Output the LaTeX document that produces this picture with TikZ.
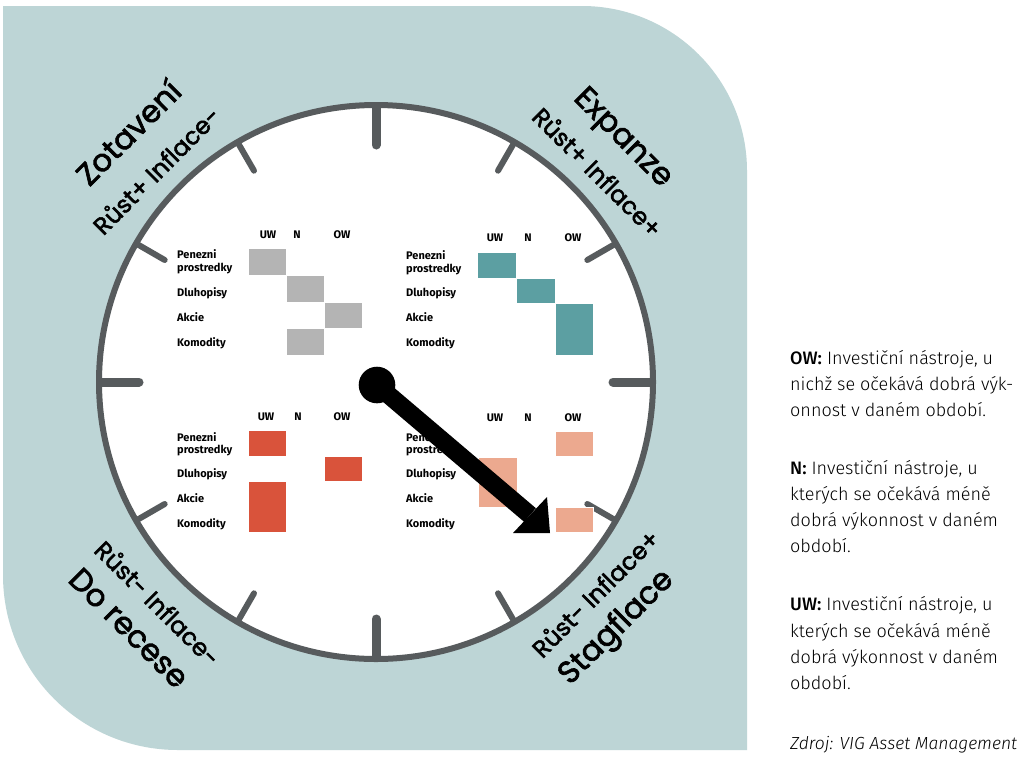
\documentclass[tikz,border=0pt]{standalone}
\usepackage{fontspec}
\usetikzlibrary{calc}
\newfontfamily\titlefont{Poppins}[FakeBold=2.2]
\newfontfamily\gridfont{Fira Sans}
\newfontfamily\legfont{Fira Sans Light}[BoldFont=Fira Sans Medium, ItalicFont=Fira Sans Light Italic]
\definecolor{bgteal}{HTML}{BDD5D6}
\definecolor{ringgray}{HTML}{575B5D}
\definecolor{cgray}{HTML}{B4B4B4}
\definecolor{cteal}{HTML}{5C9FA2}
\definecolor{cred}{HTML}{D9533B}
\definecolor{csalmon}{HTML}{ECA98F}
\tikzset{
  lbl/.style={font=\gridfont\bfseries\fontsize{11}{13}\selectfont, anchor=base west, inner sep=0pt},
  hdr/.style={font=\gridfont\bfseries\fontsize{11}{13}\selectfont, anchor=base, inner sep=0pt},
  ttl/.style={font=\titlefont\fontsize{31}{36}\selectfont, inner sep=0pt},
  subttl/.style={font=\titlefont\fontsize{24}{28}\selectfont, inner sep=0pt},
  leg/.style={font=\legfont\fontsize{18}{22}\selectfont, anchor=base west, inner sep=0pt},
  cellbox/.style={draw=white, line width=0.6pt},
  majortick/.style={draw=ringgray, line width=9pt, line cap=round},
  minortick/.style={draw=ringgray, line width=6pt, line cap=round},
}
\begin{document}
\begin{tikzpicture}[x=1pt,y=-1pt]
\useasboundingbox (0,0) rectangle (1024,758);
\fill[white] (0,0) rectangle (1024,758);
% background panel
\fill[bgteal] (3,6) -- (582,6) .. controls (673,6) and (747,80) .. (747,171)
  -- (747,750) -- (178,750) .. controls (81,750) and (3,672) .. (3,575) -- cycle;
% dial
\coordinate (C) at (376,382);
\fill[white] (C) circle (277);
\foreach \a in {0,90,180,270}
  \draw[majortick] ($(C)+(\a:274)$) -- ($(C)+(\a:237)$);
\foreach \a in {30,60,120,150,210,240,300,330}
  \draw[minortick] ($(C)+(\a:275)$) -- ($(C)+(\a:244)$);
\draw[ringgray, line width=6pt] (C) circle (277);

% quadrant titles
\node[ttl, rotate=45] (zot) at (128,132) {Zotavení};
\node[subttl, rotate=45] (zotsub) at (156,170) {Růst+ Inflace-};
\node[ttl, rotate=-45] (exp) at (622,139) {Expanze};
\node[subttl, rotate=-45] (expsub) at (598,172) {Růst+ Inflace+};
\node[subttl, rotate=-45] (recsub) at (158,603) {Růst- Inflace-};
\node[ttl, rotate=-45] (rec) at (129,628) {Do recese};
\node[subttl, rotate=45] (stagsub) at (595,593) {Růst- Inflace+};
\node[ttl, rotate=45] (stag) at (617,628) {Stagflace};

% top-left grid
\fill[cgray, cellbox] (248,248) rectangle (286,275);
\fill[cgray, cellbox] (286,275) rectangle (324,302);
\fill[cgray, cellbox] (324,302) rectangle (362,328.5);
\fill[cgray, cellbox] (286,328.5) rectangle (324,355);
\node[hdr] (tluw) at (268,238) {UW};
\node[hdr] (tln) at (297,238) {N};
\node[hdr] (tlow) at (342,238) {OW};
\node[lbl] (tlp1) at (177,258) {Penezni};
\node[lbl] (tlp2) at (177,271) {prostredky};
\node[lbl] (tld) at (177,296) {Dluhopisy};
\node[lbl] (tla) at (177,321) {Akcie};
\node[lbl] (tlk) at (177,346) {Komodity};

% top-right grid
\fill[cteal, cellbox] (477,252) rectangle (516,278);
\fill[cteal, cellbox] (516,278) rectangle (555,303.5);
\fill[cteal, cellbox] (555,303.5) rectangle (593,355);
\node[hdr] (truw) at (495,241) {UW};
\node[hdr] (trn) at (528,241) {N};
\node[hdr] (trow) at (573,241) {OW};
\node[lbl] (trp1) at (406,259) {Penezni};
\node[lbl] (trp2) at (406,272) {prostredky};
\node[lbl] (trd) at (406,296) {Dluhopisy};
\node[lbl] (tra) at (406,321) {Akcie};
\node[lbl] (trk) at (406,346) {Komodity};

% bottom-left grid
\fill[cred, cellbox] (248,430) rectangle (286,456);
\fill[cred, cellbox] (324,456) rectangle (362,481.5);
\fill[cred, cellbox] (248,481.5) rectangle (286,532);
\node[hdr] (bluw) at (266,420) {UW};
\node[hdr] (bln) at (298,420) {N};
\node[hdr] (blow) at (342,420) {OW};
\node[lbl] (blp1) at (177,441) {Penezni};
\node[lbl] (blp2) at (177,453) {prostredky};
\node[lbl] (bld) at (177,477) {Dluhopisy};
\node[lbl] (bla) at (177,502) {Akcie};
\node[lbl] (blk) at (177,527) {Komodity};

% bottom-right grid
\fill[csalmon, cellbox] (555,431) rectangle (593,456);
\fill[csalmon, cellbox] (478,457) rectangle (517,507);
\fill[csalmon, cellbox] (555,507) rectangle (593,532);
\node[hdr] (bruw) at (495,421) {UW};
\node[hdr] (brn) at (528,421) {N};
\node[hdr] (brow) at (573,421) {OW};
\node[lbl] (brp1) at (406,441) {Penezni};
\node[lbl] (brp2) at (406,453) {prostredky};
\node[lbl] (brd) at (406,477) {Dluhopisy};
\node[lbl] (bra) at (406,502) {Akcie};
\node[lbl] (brk) at (406,527) {Komodity};

% pointer
\coordinate (P) at (377,385);
\coordinate (W) at (530,515);
\coordinate (T) at (550,533);
\coordinate (W1) at (513,533);
\coordinate (W2) at (547,497);
\fill[black] (P) circle (18.3);
\draw[black, line width=18pt] (P) -- (W);
\fill[black] (W1) -- (T) -- (W2) -- cycle;

% legend
\node[leg] (ow1) at (790,364) {\textbf{OW:} Investiční nástroje, u};
\node[leg] (ow2) at (790,390) {nichž se očekává dobrá výk-};
\node[leg] (ow3) at (790,416) {onnost v daném období.};
\node[leg] (n1) at (790,474) {\textbf{N:} Investiční nástroje, u};
\node[leg] (n2) at (790,500) {kterých se očekává méně};
\node[leg] (n3) at (790,526) {dobrá výkonnost v daném};
\node[leg] (n4) at (790,552) {období.};
\node[leg] (uw1) at (790,610) {\textbf{UW:} Investiční nástroje, u};
\node[leg] (uw2) at (790,637) {kterých se očekává méně};
\node[leg] (uw3) at (790,663) {dobrá výkonnost v daném};
\node[leg] (uw4) at (790,689) {období.};
\node[leg, font=\legfont\fontsize{17.5}{21}\selectfont] (src) at (790,749) {\itshape Zdroj: VIG Asset Management};
\end{tikzpicture}
\end{document}
